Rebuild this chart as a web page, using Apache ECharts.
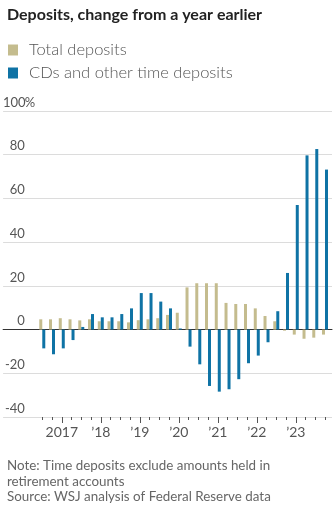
<!DOCTYPE html>
<html><head><meta charset="utf-8">
<script src="https://cdn.jsdelivr.net/npm/echarts@6/dist/echarts.min.js"></script>
<style>html,body{margin:0;padding:0;background:#fff}#c{width:336px;height:511px}</style>
</head><body><div id="c"></div>
<script>
const quarters = ['2016 Q3','2016 Q4',
 '2017 Q1','2017 Q2','2017 Q3','2017 Q4',
 '2018 Q1','2018 Q2','2018 Q3','2018 Q4',
 '2019 Q1','2019 Q2','2019 Q3','2019 Q4',
 '2020 Q1','2020 Q2','2020 Q3','2020 Q4',
 '2021 Q1','2021 Q2','2021 Q3','2021 Q4',
 '2022 Q1','2022 Q2','2022 Q3','2022 Q4',
 '2023 Q1','2023 Q2','2023 Q3','2023 Q4'];
const yearLabels = {'2017 Q1':'2017','2018 Q1':'\u201918','2019 Q1':'\u201919','2020 Q1':'\u201920','2021 Q1':'\u201921','2022 Q1':'\u201922','2023 Q1':'\u201923'};
const totalDeposits = [4.7,4.7,5.2,4.7,4.2,4.7,3.8,3.8,3.8,3.3,4.3,4.7,5.2,6.7,7.7,19.3,21.2,21.2,21.2,12.2,11.7,11.7,9.7,6.2,3.8,-0.5,-2.3,-4.2,-3.7,-2.3];
const timeDeposits = [-8.6,-11.3,-8.6,-4.8,1.2,7.1,5.6,5.6,7.1,9.7,16.7,16.7,12.8,9.7,0.5,-7.8,-15.9,-25.8,-28.4,-27.3,-22.7,-15.4,-11.9,-5.8,8.4,25.9,57,79.7,82.6,73.2];
const yTicks = {min:-40, max:100, step:20};

const FONT = 'Lato';
const chart = echarts.init(document.getElementById('c'), null, {renderer:'canvas'});
const TOP = 111, BOTTOM = 94;
const isMajor = (i) => yearLabels[quarters[i]] !== undefined;
chart.setOption({
  animation:false,
  textStyle:{fontFamily:FONT},
  title:[
    {text:'Deposits, change from a year earlier', left:2, top:2,
     textStyle:{fontFamily:FONT, fontWeight:'bold', fontSize:16, color:'#222'}},
    {text:'Note: Time deposits exclude amounts held in\nretirement accounts\nSource: WSJ analysis of Federal Reserve data',
     left:2, top:453, textStyle:{fontFamily:FONT, fontWeight:'normal', fontSize:13.4, lineHeight:15.5, color:'#666'}}
  ],
  legend:{orient:'vertical', left:3, top:36, itemWidth:10, itemHeight:11, itemGap:5, icon:'rect',
    textStyle:{fontFamily:FONT, fontWeight:300, fontSize:16.5, color:'#555', lineHeight:18, padding:[0,0,0,6]},
    data:['Total deposits','CDs and other time deposits']},
  grid:[
    {left:2, right:4, top:TOP, bottom:BOTTOM},
    {left:37.4, right:6.1, top:TOP, bottom:BOTTOM}
  ],
  xAxis:[
    {gridIndex:0, type:'value', min:0, max:1, show:true,
     axisLine:{show:true, onZero:true, lineStyle:{color:'#333', width:1}},
     axisTick:{show:false}, axisLabel:{show:false}, splitLine:{show:false}},
    {gridIndex:1, type:'category', data:quarters, position:'bottom',
     axisLine:{show:false, onZero:false},
     axisTick:{show:true, alignWithLabel:true, interval:0, length:3, lineStyle:{color:'#555'}},
     axisLabel:{interval:(i)=>isMajor(i), formatter:(v)=>yearLabels[v]||'', margin:8,
       fontFamily:FONT, fontSize:14, color:'#555'},
     splitLine:{show:false}},
    {gridIndex:1, type:'category', data:quarters, position:'bottom',
     axisLine:{show:false, onZero:false},
     axisTick:{show:true, alignWithLabel:true, interval:(i)=>isMajor(i), length:6, lineStyle:{color:'#555'}},
     axisLabel:{show:false}, splitLine:{show:false}}
  ],
  yAxis:[
    {gridIndex:0, type:'value', min:yTicks.min, max:yTicks.max, interval:yTicks.step,
     axisLine:{show:false}, axisTick:{show:false},
     splitLine:{show:true, lineStyle:{color:'#dcdcdc', width:1}},
     axisLabel:{inside:true, margin:0.7, align:'left', verticalAlign:'bottom', padding:[0,0,2,0],
       formatter:(v)=> v===yTicks.max ? '{n|'+v+'}{p|%}' : '{n|'+v+'}',
       rich:{n:{width:21, align:'right', fontFamily:FONT, fontSize:13, color:'#555'},
             p:{fontFamily:FONT, fontSize:13, color:'#555'}}}},
    {gridIndex:1, type:'value', min:yTicks.min, max:yTicks.max, interval:yTicks.step, show:false}
  ],
  series:[
    {name:'Total deposits', type:'bar', xAxisIndex:1, yAxisIndex:1, data:totalDeposits,
     barWidth:3, barGap:'0%', itemStyle:{color:'#c4bc8e'}},
    {name:'CDs and other time deposits', type:'bar', xAxisIndex:1, yAxisIndex:1, data:timeDeposits,
     barWidth:3, barGap:'0%', itemStyle:{color:'#0f73a5'}}
  ]
});
</script></body></html>
